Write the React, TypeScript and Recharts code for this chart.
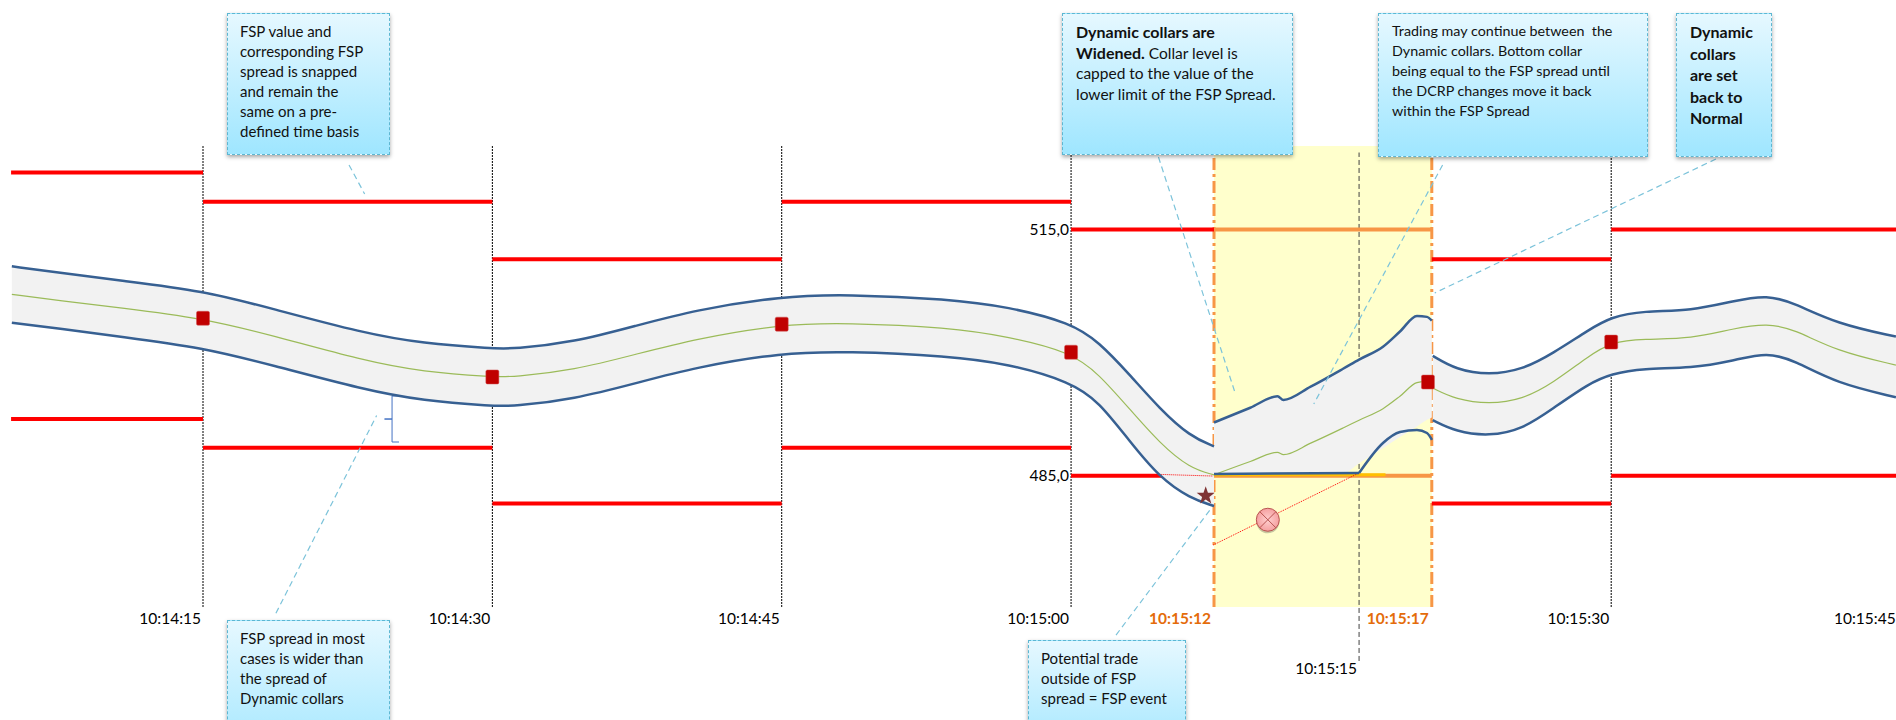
import React from "react";
import {
  ComposedChart, Area, Line, Scatter, XAxis, YAxis, ReferenceLine, ReferenceDot, ReferenceArea,
} from "recharts";

// ---- time axis: schematic seconds after 10:14:15 ----
const tickTimes = [0, 15, 30, 45, 52.41, 59.93, 63.7, 73, 87.85];
const tickLabels = ["10:14:15", "10:14:30", "10:14:45", "10:15:00", "10:15:12", "10:15:15", "10:15:17", "10:15:30", "10:15:45"];
const orangeTicks = ["10:15:12", "10:15:17"];
const blackVerticals = [0, 15, 30, 45, 73];
const orangeVerticals = [52.41, 63.7];
const midVertical = [59.93];
const valueLabels = [515, 485];

// ---- FSP spread steps ----
const stepEdges = [-9.95, 0, 15, 30, 45, 52.41, 63.7, 73, 88];
const fspUpper = [521.95, 518.4, 511.4, 518.4, 515, 515, 511.4, 515];
const fspLower = [491.9, 488.4, 481.6, 488.4, 485, 485, 481.6, 485];
const stepIsWidened = [false, false, false, false, false, true, false, false];

// ---- Dynamic collars, before the widening ----
const timeA = [-9.91, -7.4, -4.26, 0, 3.57, 8.28, 11.41, 15, 16.1, 19.25, 22.4, 25.5, 30, 33.36, 38.62, 41.75, 45, 46.45, 48.02, 49.59, 51.16, 52.41];
const upperA = [510.52, 509.74, 508.78, 507.55, 505.37, 502.4, 501.11, 500.5, 500.44, 501.28, 503.24, 505.2, 506.88, 507.11, 506.55, 505.59, 503.63, 501.28, 497.36, 493.16, 489.8, 488.57];
const lowerA = [503.63, 502.91, 501.95, 500.61, 498.48, 495.52, 494.12, 493.5, 493.44, 494.34, 496.24, 498.2, 499.99, 500.16, 499.6, 498.65, 496.41, 494, 489.24, 484.76, 482.25, 481.29];
const midA = [507.11, 506.32, 505.48, 504.19, 502.12, 499.04, 497.64, 497.03, 497.03, 497.87, 499.77, 501.67, 503.47, 503.63, 503.07, 501.95, 500.05, 497.36, 493.16, 488.96, 485.88, 485.1];

// ---- Widened collars ----
const timeB = [52.41, 54.29, 55.7, 56.01, 57.42, 59.1, 59.93, 61.17, 62.05, 62.93, 63.45, 63.7];
const upperB = [491.48, 493.28, 494.68, 494.23, 495.85, 498.03, 499.15, 500.72, 502.57, 504.47, 504.36, 503.9];
const midB = [485.1, 486.72, 487.84, 487.56, 488.96, 490.81, 491.76, 493.16, 494.68, 496.35, 496.5, 496.24];
const bandFloorB = [485.21, 485.25, 485.27, 485.27, 485.27, 485.28, 486.5, 488.37, 489.7, 491, 491.8, 492.1];
const flatTimeB = [52.41, 59.93];
const flatLowerB = [485.21, 485.32];
const riseTimeB = [59.93, 61.17, 62.05, 62.93, 63.45, 63.71];
const riseLowerB = [485.32, 488.98, 490.32, 490.57, 490.2, 489.35];

// ---- Collars back to normal ----
const timeC = [63.75, 64.95, 66.67, 68.39, 69.96, 71.84, 73, 74.66, 77.17, 79.36, 81.09, 82.5, 84.69, 87.76];
const upperC = [499.6, 497.92, 497.25, 497.92, 499.88, 502.79, 504.36, 505.09, 505.09, 506.32, 507.05, 506.04, 503.52, 501.95];
const lowerC = [491.76, 490.36, 489.8, 490.64, 493.16, 496.24, 497.42, 498.09, 498.09, 499.04, 500.05, 499.04, 496.24, 494.56];
const midC = [495.68, 494.28, 493.72, 494.28, 496.24, 499.6, 501.28, 501.67, 501.67, 502.96, 503.58, 502.85, 500.16, 498.48];

// ---- FSP snapshots ----
const snapTimes = [0, 15, 30, 45, 63.5, 73];
const snapValues = [504.19, 497.03, 503.47, 500.05, 496.41, 501.28];

// ---- annotations in chart units ----
const redDotted = [
  [{ t: 49.44, v: 485.16 }, { t: 52.36, v: 484.95 }],
  [{ t: 52.37, v: 476.54 }, { t: 59.89, v: 485.28 }],
];
const goldLine = [{ t: 52.41, v: 485.1 }, { t: 61.3, v: 485.1 }];
const bracket = [
  { t: 10.16, v: 494.71 }, { t: 9.8, v: 494.71 }, { t: 9.8, v: 491.9 }, { t: 9.41, v: 491.9 },
  { t: 9.8, v: 491.9 }, { t: 9.8, v: 489.1 }, { t: 10.16, v: 489.1 },
];
const leaders = [
  [7.57, 522.88, 8.38, 519.34],
  [3.78, 468.22, 9.0, 492.33],
  [49.53, 523.85, 53.5, 495.12],
  [64.26, 522.88, 57.58, 493.73],
  [78.43, 523.61, 63.85, 507.27],
  [47.33, 465.56, 52.31, 481.17],
];
const starPoint = { t: 51.98, v: 482.55 };
const crossPoint = { t: 55.2, v: 479.62 };

const build = (time: number[], upper: number[], lower: number[], mid: number[]) =>
  time.map((t, i) => ({ t, upper: upper[i], lower: lower[i], mid: mid[i], band: [lower[i], upper[i]] }));
const pairs = (time: number[], lower: number[]) => time.map((t, i) => ({ t, lower: lower[i] }));
const segA = build(timeA, upperA, lowerA, midA);
const segB = build(timeB, upperB, bandFloorB, midB);
const segC = build(timeC, upperC, lowerC, midC);
const segments = [
  { data: segA, curve: "basis" as const },
  { data: segB, curve: "monotone" as const },
  { data: segC, curve: "basis" as const },
];
const snaps = snapTimes.map((t, i) => ({ t, v: snapValues[i] }));
const stepSegs = (levels: number[]) =>
  levels.map((v, i) => ({ color: stepIsWidened[i] ? "#f79646" : "#ff0000", data: [{ t: stepEdges[i], v }, { t: stepEdges[i + 1], v }] }));

const FONT = "Lato, sans-serif";

const TimeTick = (props: any) => {
  const { x, y, payload } = props;
  const label = tickLabels[tickTimes.indexOf(payload.value)];
  const orange = orangeTicks.includes(label);
  const low = label === "10:15:15";
  return (
    <text x={x - (orange ? 3 : 2)} y={y + (low ? 59 : 9)} textAnchor="end" fontFamily={FONT} fontSize={15.5}
      fontWeight={orange ? 700 : 400} fill={orange ? "#e46c0a" : "#000"}>
      {label}
    </text>
  );
};

const Square = (props: any) => (
  <rect x={props.cx - 6.5} y={props.cy - 7} width={13} height={14} rx={1.5} fill="#c00000" stroke="#d05050" strokeWidth={0.5} />
);

const StarMark = (props: any) => {
  const { cx, cy } = props;
  const r = 9.5, q = 3.8;
  const pts = Array.from({ length: 10 }, (_, i) => {
    const a = -Math.PI / 2 + (i * Math.PI) / 5;
    const d = i % 2 ? q : r;
    return `${cx + d * Math.cos(a)},${cy + d * Math.sin(a)}`;
  }).join(" ");
  return <polygon points={pts} fill="#7f3333" />;
};

const CrossMark = (props: any) => {
  const { cx, cy } = props;
  const r = 11.5, k = r * 0.707;
  return (
    <g>
      <circle cx={cx} cy={cy + 2} r={r} fill="#000" opacity={0.22} />
      <circle cx={cx} cy={cy} r={r} fill="url(#crossFill)" stroke="#b85450" strokeWidth={1} />
      <line x1={cx - k} y1={cy - k} x2={cx + k} y2={cy + k} stroke="#b85450" />
      <line x1={cx - k} y1={cy + k} x2={cx + k} y2={cy - k} stroke="#b85450" />
    </g>
  );
};

type Part = { text: string; bold?: boolean };
const calloutBase: React.CSSProperties = {
  position: "absolute", boxSizing: "border-box",
  background: "linear-gradient(to bottom, #e6f8ff 0%, #9fe6ff 100%)",
  border: "1px dashed #5db7d2", boxShadow: "0 2px 4px rgba(0,0,0,0.35)",
  fontFamily: FONT, color: "#111", whiteSpace: "pre", zIndex: 5,
};

const Callout = ({ left, top, width, height, pad, line, size = 15, lines }: { left: number; top: number; width: number; height: number; pad: number; line: number; size?: number; lines: Part[][] }) => (
  <div style={{ ...calloutBase, left, top, width, height, padding: `7px 0 0 ${pad}px`, fontSize: size, lineHeight: `${line}px` }}>
    {lines.map((parts, i) => (
      <div key={i} style={{ height: line }}>
        {parts.map((p, j) => (
          <span key={j} style={{ fontWeight: p.bold ? 700 : 400, fontSize: p.bold ? 16 : size }}>{p.text}</span>
        ))}
      </div>
    ))}
  </div>
);
const plain = (...ls: string[]): Part[][] => ls.map((text) => [{ text }]);
const bold = (...ls: string[]): Part[][] => ls.map((text) => [{ text, bold: true }]);

export default function App() {
  return (
    <div style={{ position: "absolute", left: 0, top: 0, width: 1896, height: 720, overflow: "hidden", background: "#fff" }}>
      <ComposedChart width={1910} height={720} margin={{ top: 0, right: 0, bottom: 0, left: 0 }} data={segA}>
        <defs>
          <radialGradient id="crossFill">
            <stop offset="0%" stopColor="#ffd0d0" />
            <stop offset="100%" stopColor="#f5a0a0" />
          </radialGradient>
        </defs>
        <XAxis dataKey="t" type="number" domain={[-10.524, 88.49]} allowDataOverflow ticks={tickTimes} interval={0}
          axisLine={false} tickLine={false} tick={<TimeTick />} height={113} />
        <YAxis dataKey="v" type="number" domain={[468.98, 543]} allowDataOverflow hide />

        <ReferenceArea x1={52.41} x2={63.7} y1={468.98} y2={525.2} fill="#ffffcc" fillOpacity={1} stroke="none" ifOverflow="visible" zIndex={10} />
        {blackVerticals.map((t) => (
          <ReferenceLine key={t} segment={[{ x: t, y: 468.98 }, { x: t, y: 525.2 }]} stroke="#000" strokeWidth={1} strokeDasharray="2 1" ifOverflow="visible" zIndex={20} />
        ))}
        {midVertical.map((t) => (
          <ReferenceLine key={t} segment={[{ x: t, y: 462.4 }, { x: t, y: 524.4 }]} stroke="#404040" strokeWidth={1} strokeDasharray="5 3" ifOverflow="visible" zIndex={20} />
        ))}
        {orangeVerticals.map((t) => (
          <ReferenceLine key={t} segment={[{ x: t, y: 468.98 }, { x: t, y: 525.2 }]} stroke="#f79646" strokeWidth={3} strokeDasharray="12 4 3 4" ifOverflow="visible" zIndex={20} />
        ))}

        {[...stepSegs(fspUpper), ...stepSegs(fspLower)].map((s, i) => (
          <Line key={`step${i}`} data={s.data} dataKey="v" type="linear" stroke={s.color} strokeWidth={4} dot={false} activeDot={false} isAnimationActive={false} zIndex={25} />
        ))}

        {segments.map((s, i) => (
          <Area key={`band${i}`} data={s.data} dataKey="band" type={s.curve} stroke="none" fill="#f2f2f2" fillOpacity={1} dot={false} activeDot={false} isAnimationActive={false} zIndex={30} />
        ))}

        <Line data={goldLine} dataKey="v" type="linear" stroke="#ffc000" strokeWidth={3} dot={false} activeDot={false} isAnimationActive={false} zIndex={35} />
        {redDotted.map((d, i) => (
          <Line key={`dot${i}`} data={d} dataKey="v" type="linear" stroke="#ff0000" strokeWidth={1} strokeDasharray="1 1" dot={false} activeDot={false} isAnimationActive={false} zIndex={35} />
        ))}
        <Line data={bracket} dataKey="v" type="linear" stroke="#4472c4" strokeWidth={1} dot={false} activeDot={false} isAnimationActive={false} zIndex={35} />

        {segments.map((s, i) => (
          <Line key={`mid${i}`} data={s.data} dataKey="mid" type={s.curve} stroke="#9bbb59" strokeWidth={1.2} dot={false} activeDot={false} isAnimationActive={false} zIndex={40} />
        ))}
        {segments.map((s, i) => (
          <Line key={`up${i}`} data={s.data} dataKey="upper" type={s.curve} stroke="#376092" strokeWidth={2.5} dot={false} activeDot={false} isAnimationActive={false} zIndex={45} />
        ))}
        {[segments[0], segments[2]].map((s, i) => (
          <Line key={`lo${i}`} data={s.data} dataKey="lower" type={s.curve} stroke="#376092" strokeWidth={2.5} dot={false} activeDot={false} isAnimationActive={false} zIndex={45} />
        ))}
        <Line data={pairs(flatTimeB, flatLowerB)} dataKey="lower" type="linear" stroke="#376092" strokeWidth={2.5} dot={false} activeDot={false} isAnimationActive={false} zIndex={45} />
        <Line data={pairs(riseTimeB, riseLowerB)} dataKey="lower" type="monotone" stroke="#376092" strokeWidth={2.5} dot={false} activeDot={false} isAnimationActive={false} zIndex={45} />

        <Scatter data={snaps} dataKey="v" shape={<Square />} isAnimationActive={false} zIndex={50} />
        <ReferenceDot x={starPoint.t} y={starPoint.v} shape={<StarMark />} ifOverflow="visible" zIndex={50} />
        <ReferenceDot x={crossPoint.t} y={crossPoint.v} shape={<CrossMark />} ifOverflow="visible" zIndex={50} />

        {leaders.map(([t1, v1, t2, v2], i) => (
          <ReferenceLine key={`lead${i}`} segment={[{ x: t1, y: v1 }, { x: t2, y: v2 }]} stroke="#7cc3da" strokeWidth={1.2} strokeDasharray="6 4" ifOverflow="visible" zIndex={55} />
        ))}

        {valueLabels.map((v) => (
          <ReferenceDot key={v} x={45} y={v} r={0} fill="none" stroke="none" ifOverflow="visible" zIndex={60}
            label={{ value: `${v},0`, position: "left", offset: 2, fontFamily: FONT, fontSize: 15.5, fill: "#000" }} />
        ))}
      </ComposedChart>

      <Callout left={227} top={13} width={163} height={142} pad={12} line={20}
        lines={plain("FSP value and", "corresponding FSP", "spread is snapped", "and remain the", "same on a pre-", "defined time basis")} />
      <Callout left={227} top={620} width={163} height={145} pad={12} line={20}
        lines={plain("FSP spread in most", "cases is wider than", "the spread of", "Dynamic collars")} />
      <Callout left={1028} top={640} width={158} height={120} pad={12} line={20}
        lines={plain("Potential trade", "outside of FSP", "spread = FSP event")} />
      <Callout left={1062} top={13} width={231} height={142} pad={13} line={21} size={15.5}
        lines={[
          [{ text: "Dynamic collars are", bold: true }],
          [{ text: "Widened. ", bold: true }, { text: "Collar level is" }],
          [{ text: "capped to the value of the" }],
          [{ text: "lower limit of the FSP Spread." }],
        ]} />
      <Callout left={1378} top={13} width={270} height={144} pad={13} line={20} size={14.3}
        lines={plain("Trading may continue between  the", "Dynamic collars. Bottom collar", "being equal to the FSP spread until", "the DCRP changes move it back", "within the FSP Spread")} />
      <Callout left={1676} top={13} width={96} height={144} pad={13} line={21.5}
        lines={bold("Dynamic", "collars", "are set", "back to", "Normal")} />
    </div>
  );
}
